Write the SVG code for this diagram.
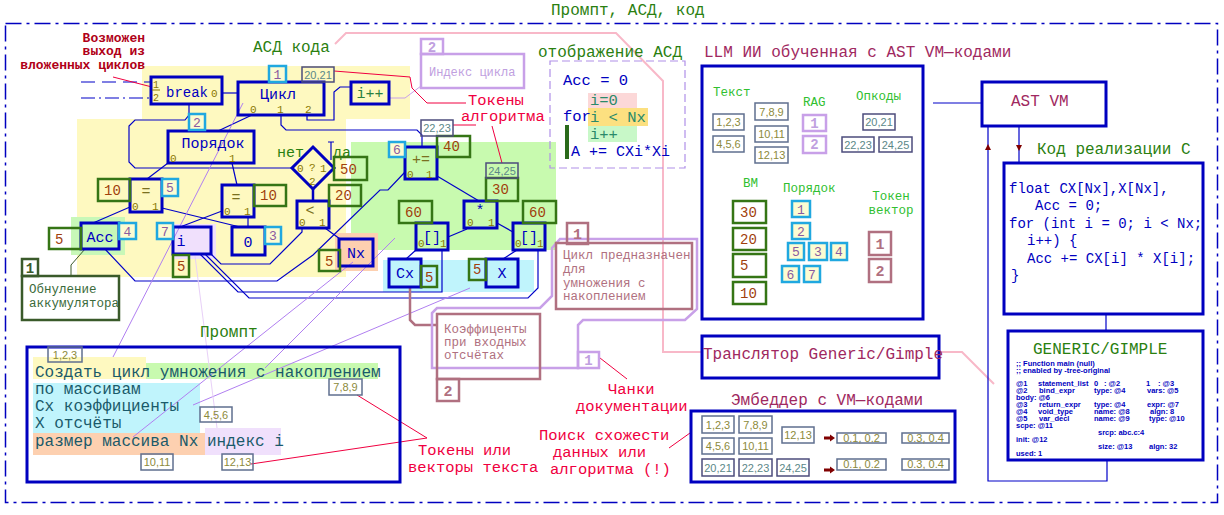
<svg xmlns="http://www.w3.org/2000/svg" width="1224" height="515" viewBox="0 0 1224 515">
<defs>
<style>
text{font-family:"Liberation Mono","DejaVu Sans Mono",monospace}
.bl{fill:none;stroke:#0000c0;stroke-width:3}
.w{fill:none;stroke:#0000c8;stroke-width:1.2}
.nt{fill:#0000c0;font-size:15px;text-anchor:middle}
.pt{fill:#8a7800;font-size:11px}
.ot{fill:#7a7020;font-size:15px;text-anchor:middle}
.v{fill:none;stroke:#357515;stroke-width:2.5}
.vt{fill:#a0400c;font-size:14px}
.c{fill:#fcfcd2;stroke:#20a8e0;stroke-width:2.5}
.ct{fill:#8a5aa0;font-size:13px;text-anchor:middle}
.tg{fill:none;stroke:#5f6f8f;stroke-width:1.5}
.tgt{fill:#8c8a3c;font-size:11px;font-family:"Liberation Sans",sans-serif;text-anchor:middle}
.op{fill:none;stroke:#4c4c7c;stroke-width:1.5}
.opt{fill:#5c8888;font-size:11px;font-family:"Liberation Sans",sans-serif;text-anchor:middle}
.pl{fill:none;stroke:#b07ff0;stroke-width:1}
.rl{fill:none;stroke:#f00040;stroke-width:1}
.gl{fill:#2a8010;font-size:16px}
.lg{fill:#30c030;font-size:12.5px}
.red{fill:#f00040;font-size:15.5px}
.mv{fill:none;stroke:#b07080;stroke-width:2.5}
.mvt{fill:#b07080;font-size:12.5px}
.mvb{fill:#b07080;font-size:15px;font-weight:bold;text-anchor:middle}
.pp{fill:none;stroke:#c8a0e8;stroke-width:2.5}
.ppb{fill:#c0a0e0;font-size:14px;font-weight:bold;text-anchor:middle}
.ttl{fill:#a02860;font-size:16px}
.pr{fill:#1a5a6a;font-size:16px}
.ads{fill:#2a8a6a;font-size:15.5px}
.code{fill:#0000c0;font-size:14px}
.gm{fill:#0000c0;font-size:7.5px;font-weight:bold;font-family:"Liberation Sans",sans-serif}
</style>
<path id="arR" d="M-4,-1.5 H2 V-3.5 L7,0 L2,3.5 V1.5 H-4 Z" fill="#800000"/>
</defs>
<rect width="1224" height="515" fill="#ffffff"/>

<g id="backgrounds">
<polygon points="142,66 410,66 410,119 346,119 346,277 77,277 77,119 142,119" fill="#fef9c0"/>
<rect x="351" y="142" width="205" height="108" fill="#c8faaf"/>
<rect x="71" y="217" width="54" height="38" fill="#c8f8b8"/>
<rect x="383" y="260" width="151" height="32" fill="#c0f4fc"/>
<rect x="335" y="233" width="43" height="38" fill="#fdd0b0"/>
<rect x="172" y="224" width="44" height="35" fill="#f0e0fc"/>
<rect x="588" y="93" width="49" height="15" fill="#fcd8d8"/>
<rect x="588" y="108" width="60" height="18" fill="#fce080"/>
<rect x="588" y="126" width="49" height="16" fill="#c8f8c8"/>
<rect x="33" y="357" width="113" height="22" fill="#fef9c0"/>
<rect x="146" y="363" width="232" height="16" fill="#c8faaf"/>
<rect x="33" y="383" width="167" height="50" fill="#c0f4fc"/>
<rect x="33" y="433" width="172" height="22" fill="#fdd0b0"/>
<rect x="205" y="428" width="76" height="27" fill="#f0e0fc"/>
</g>

<g id="frame">
<rect x="5.5" y="23.5" width="1212" height="479" fill="none" stroke="#0000c0" stroke-width="1.5" stroke-dasharray="16,5,3,5"/>
<text x="551" y="15" class="gl">Промпт, АСД, код</text>
</g>

<g id="connectors">
<path class="w" d="M81,82 H150" stroke-dasharray="14,7"/>
<path class="w" d="M81,98 H150" stroke-dasharray="14,4,2,4"/>
<path class="w" d="M222,93 H238"/>
<path class="w" d="M189,104 V115 L185,120 H135 L129,126 V162 L135,168 H292"/>
<path class="w" d="M252,115 L218,131"/>
<path class="w" d="M281,115 V125 L286,130 H417 L422,135 V147"/>
<path class="w" d="M307,115 V120 H334 V92 L340,87 H351"/>
<path class="w" d="M168,163 L147,179"/>
<path class="w" d="M232,163 L237,185"/>
<path class="w" d="M130,207 L93,223"/>
<path class="w" d="M162,208 L240,227"/>
<path class="w" d="M222,211 L180,227"/>
<path class="w" d="M248,217 V227"/>
<path fill="none" stroke="#0000c0" stroke-width="2.5" d="M313,189 V201"/>
<path class="w" d="M211,254 L221,264 H270 L302,232 V228"/>
<path class="w" d="M325,228 L340,239"/>
<path class="w" d="M105,249 L135,281 H277 L313,255 L380,190 H388 L405,172"/>
<path class="w" d="M200,254 L238,292 H442 V250"/>
<path class="w" d="M205,254 L249,298 H528 L538,288 V250"/>
<path class="w" d="M437,176 L479,201"/>
<path class="w" d="M467,229 L448,237"/>
<path class="w" d="M497,223 L513,232"/>
<path class="w" d="M416,250 L406,259"/>
<path class="w" d="M517,250 L503,259"/>
<path class="w" d="M328,142 H334 M331,142 V160"/>
<path fill="none" stroke="#3a5a2a" stroke-width="1" d="M71,276 V265 L85,249"/>
<path class="pl" d="M243,103 L113,357"/>
<path class="pl" d="M265,368 L395,238"/>
<path class="pl" d="M133,437 L353,262"/>
<path class="pl" d="M193,405 L470,288"/>
<path fill="none" stroke="#e8d0f8" stroke-width="1" d="M195,256 L217,428"/>
<path fill="none" stroke="#c8a0e8" stroke-width="1" d="M389,98 H405 L421,86"/>
<path class="rl" d="M113,77 L152,87"/>
<path class="rl" d="M334,71 L410,77 L412,88 L427,103 H466"/>
<path class="rl" d="M453,125 H476"/>
<path class="rl" d="M492,126 L502,163"/>
<path class="rl" d="M357,395 L427,438"/>
<path class="rl" d="M251,464 L427,438"/>
<path class="rl" d="M600,358 L627,379"/>
<path class="rl" d="M669,448 L690,433"/>
<path fill="none" stroke="#f8b8c8" stroke-width="2" d="M335,44 L346,33 H616 L663,81 V352 H702"/>
<path fill="none" stroke="#f8b8c8" stroke-width="2" d="M939,352 H962 L994,384"/>
<path class="mv" d="M410,287 V320 L415,325 H437"/>
<polygon class="pp" points="560,239 697,239 697,309 685,320 583,320 578,325 578,368 432,368 432,313 437,308 540,308 552,296 552,248"/>
<path class="w" d="M933,103 H982"/>
<path class="w" d="M988,126 V481 H1107 V460"/>
<path class="w" d="M1019,126 V163"/>
<path class="w" d="M1106,314 V331"/>
<polygon points="985,150 991,150 988,144" fill="#800000"/>
<polygon points="1016,145 1022,145 1019,151" fill="#800000"/>
</g>

<g id="n-break">
<rect class="bl" x="151" y="77" width="71" height="27"/>
<text x="166" y="97" fill="#0000c0" font-size="14">break</text>
<text x="211" y="97" class="pt" font-size="12">0</text>
<text x="153" y="88" fill="#8a7800" font-size="10">1</text>
<text x="153" y="101" fill="#8a7800" font-size="10">2</text>
<path d="M152,90 H160" stroke="#8a7800" stroke-width="1"/>
</g>
<g id="n-cycle">
<rect class="bl" x="238" y="82" width="86" height="33"/>
<text x="278" y="99" class="nt">Цикл</text>
<text x="250" y="113" class="pt">0</text>
<text x="277" y="113" class="pt">1</text>
<text x="305" y="113" class="pt">2</text>
<rect class="c" x="269" y="66" width="17" height="16"/>
<text x="277.5" y="79" class="ct">1</text>
<rect class="op" x="302" y="67" width="32" height="15"/>
<text x="318" y="79" class="opt">20,21</text>
</g>
<g id="n-inc">
<rect class="bl" x="351" y="82" width="38" height="22"/>
<text x="370" y="98" font-size="15" fill="#2a8040" text-anchor="middle">i++</text>
</g>
<g id="n-order">
<rect class="bl" x="168" y="131" width="86" height="32"/>
<text x="213" y="148" class="nt" font-size="15.5">Порядок</text>
<text x="170" y="161.5" class="pt">0</text>
<text x="229" y="161.5" class="pt">1</text>
<rect class="c" x="189" y="114" width="16" height="16"/>
<text x="197" y="127" class="ct">2</text>
</g>
<g id="n-cond">
<polygon points="313,147 334,168 313,189 292,168" fill="none" stroke="#0000c0" stroke-width="3"/>
<text x="297" y="172" class="pt">0</text>
<text x="309" y="171" class="pt">?</text>
<text x="320" y="172" class="pt">1</text>
<text x="309" y="185" class="pt">2</text>
<text x="277" y="157" fill="#2a8010" font-size="15">нет</text>
<text x="333" y="157" fill="#2a8010" font-size="15">да</text>
<rect class="v" x="334" y="157" width="33" height="23"/>
<text x="340" y="174" class="vt">50</text>
</g>
<g id="n-eq1">
<rect class="bl" x="130" y="179" width="32" height="33"/>
<text x="146" y="196" class="ot">=</text>
<text x="132" y="210" class="pt">0</text>
<text x="152" y="210" class="pt">1</text>
<rect class="v" x="98" y="179" width="32" height="22"/>
<text x="104" y="195" class="vt">10</text>
<rect class="c" x="162" y="179" width="16" height="17"/>
<text x="170" y="192" class="ct">5</text>
</g>
<g id="n-eq2">
<rect class="bl" x="222" y="185" width="32" height="32"/>
<text x="236" y="202" class="ot">=</text>
<text x="224" y="215" class="pt">0</text>
<text x="244" y="215" class="pt">1</text>
<rect class="v" x="254" y="185" width="32" height="21"/>
<text x="260" y="200" class="vt">10</text>
</g>
<g id="n-lt">
<rect class="bl" x="297" y="201" width="32" height="27"/>
<text x="310" y="215" class="ot">&lt;</text>
<text x="299" y="226" class="pt">0</text>
<text x="319" y="226" class="pt">1</text>
<rect class="v" x="329" y="185" width="32" height="21"/>
<text x="335" y="200" class="vt">20</text>
</g>
<g id="n-acc">
<rect class="bl" x="81" y="223" width="38" height="26"/>
<text x="100" y="242" class="nt">Acc</text>
<rect class="v" x="49" y="228" width="32" height="21"/>
<text x="55" y="244" class="vt">5</text>
<rect class="c" x="119" y="223" width="17" height="16"/>
<text x="127.5" y="236" class="ct">4</text>
</g>
<g id="n-i">
<rect class="bl" x="173" y="227" width="38" height="27"/>
<text x="181" y="246" class="nt">i</text>
<rect class="c" x="157" y="223" width="16" height="16"/>
<text x="165" y="236" class="ct">7</text>
<rect class="v" x="173" y="255" width="16" height="22"/>
<text x="177" y="271" class="vt">5</text>
</g>
<g id="n-zero">
<rect class="bl" x="232" y="227" width="33" height="28"/>
<text x="248" y="247" class="nt">0</text>
<rect class="c" x="265" y="227" width="16" height="17"/>
<text x="273" y="240" class="ct">3</text>
</g>
<g id="n-nx">
<rect class="bl" x="339" y="239" width="34" height="27"/>
<text x="356" y="258" class="nt">Nx</text>
<rect class="v" x="319" y="250" width="21" height="21"/>
<text x="325" y="266" class="vt">5</text>
</g>
<g id="note-reset">
<rect x="22" y="259" width="16" height="17" fill="none" stroke="#3a5a2a" stroke-width="2.5"/>
<text x="30" y="273" fill="#3a5a2a" font-size="14" font-weight="bold" text-anchor="middle">1</text>
<rect x="22" y="276" width="97" height="44" fill="none" stroke="#3a5a2a" stroke-width="2.5"/>
<text x="29" y="293" fill="#3a6a3a" font-size="12.5">Обнуление</text>
<text x="29" y="307" fill="#3a6a3a" font-size="12.5">аккумулятора</text>
</g>
<g id="n-addeq">
<rect class="bl" x="405" y="147" width="32" height="32"/>
<text x="421" y="164" class="ot">+=</text>
<text x="407" y="178" class="pt">0</text>
<text x="426" y="178" class="pt">1</text>
<rect class="c" x="389" y="142" width="16" height="15"/>
<text x="397" y="154" class="ct">6</text>
<rect class="v" x="437" y="136" width="33" height="21"/>
<text x="443" y="151" class="vt">40</text>
<rect class="op" x="421" y="120" width="32" height="16"/>
<text x="437" y="132" class="opt">22,23</text>
</g>
<g id="n-mul">
<rect class="bl" x="464" y="201" width="33" height="27"/>
<text x="480" y="215" class="nt">*</text>
<text x="467" y="226" class="pt">0</text>
<text x="488" y="226" class="pt">1</text>
<rect class="v" x="486" y="178" width="32" height="23"/>
<text x="492" y="194" class="vt">30</text>
<rect class="op" x="486" y="163" width="32" height="15"/>
<text x="502" y="175" class="opt">24,25</text>
</g>
<g id="n-idx1">
<rect class="bl" x="416" y="223" width="32" height="27"/>
<text x="432" y="242" class="nt">[]</text>
<text x="418" y="247" class="pt">0</text>
<text x="440" y="247" class="pt">1</text>
<rect class="v" x="399" y="201" width="33" height="22"/>
<text x="405" y="217" class="vt">60</text>
</g>
<g id="n-idx2">
<rect class="bl" x="513" y="223" width="32" height="27"/>
<text x="529" y="242" class="nt">[]</text>
<text x="515" y="247" class="pt">0</text>
<text x="537" y="247" class="pt">1</text>
<rect class="v" x="523" y="201" width="33" height="22"/>
<text x="529" y="217" class="vt">60</text>
</g>
<g id="n-cx">
<rect class="bl" x="389" y="259" width="32" height="28"/>
<text x="405" y="278" class="nt">Cx</text>
<rect class="v" x="421" y="266" width="16" height="21"/>
<text x="425" y="282" class="vt">5</text>
</g>
<g id="n-x">
<rect class="bl" x="486" y="259" width="32" height="28"/>
<text x="502" y="278" class="nt">X</text>
<rect class="v" x="469" y="259" width="17" height="21"/>
<text x="473" y="274" class="vt">5</text>
</g>

<g id="labels">
<text x="145" y="42" fill="#b00018" font-size="13" font-weight="bold" text-anchor="end">Возможен</text>
<text x="145" y="55" fill="#b00018" font-size="13" font-weight="bold" text-anchor="end">выход из</text>
<text x="145" y="69" fill="#b00018" font-size="13" font-weight="bold" text-anchor="end">вложенных циклов</text>
<text x="253" y="52" class="gl">АСД кода</text>
<text x="468" y="105" class="red">Токены</text>
<text x="461" y="121" class="red">алгоритма</text>
<text x="608" y="394" class="red">Чанки</text>
<text x="576" y="411" class="red">документации</text>
<text x="539" y="440" class="red">Поиск схожести</text>
<text x="553" y="457" class="red">данных или</text>
<text x="550" y="474" class="red">алгоритма (!)</text>
<text x="418" y="455" class="red">Токены или</text>
<text x="408" y="472" class="red">векторы текста</text>
</g>
<g id="note-index">
<rect class="pp" x="421" y="39" width="22" height="15"/>
<text x="432" y="52" class="ppb">2</text>
<rect class="pp" x="421" y="54" width="103" height="34"/>
<text x="429" y="76" fill="#c0a0e0" font-size="12">Индекс цикла</text>
</g>
<g id="ads-view">
<text x="538" y="57" class="gl">отображение АСД</text>
<rect x="550" y="61" width="135" height="107" fill="none" stroke="#b090e8" stroke-width="1.2" stroke-dasharray="8,4"/>
<text x="563" y="85" fill="#0000c0" font-size="15.5">Acc = 0</text>
<text x="590" y="105" class="ads">i=0</text>
<text x="563" y="121" fill="#0000c0" font-size="15.5">for</text>
<text x="590" y="122" class="ads">i &lt; Nx</text>
<text x="590" y="139" class="ads">i++</text>
<rect x="565" y="125" width="4" height="34" fill="#2a6a1a"/>
<text x="571" y="156" fill="#0000c0" font-size="15">A += CXi*Xi</text>
</g>
<g id="note-cycle">
<rect class="mv" x="567" y="223" width="21" height="21"/>
<text x="577.5" y="239" class="mvb">1</text>
<rect class="mv" x="556" y="243" width="136" height="66"/>
<text x="563" y="259" class="mvt">Цикл предназначен</text>
<text x="563" y="273" class="mvt">для</text>
<text x="563" y="287" class="mvt">умножения с</text>
<text x="563" y="300" class="mvt">накоплением</text>
</g>
<g id="note-coef">
<rect class="mv" x="437" y="314" width="103" height="65"/>
<text x="444" y="333" class="mvt">Коэффиценты</text>
<text x="444" y="346" class="mvt">при входных</text>
<text x="444" y="359" class="mvt">отсчётах</text>
<rect class="mv" x="437" y="379" width="22" height="22"/>
<text x="448" y="396" class="mvb">2</text>
</g>
<g id="chunk-1">
<rect class="pp" x="578" y="352" width="21" height="16" fill="#ffffff"/>
<text x="588.5" y="365" class="ppb">1</text>
</g>

<g id="prompt">
<text x="200" y="337" class="gl">Промпт</text>
<rect class="bl" x="27" y="347" width="373" height="135"/>
<text x="35" y="377" class="pr">Создать цикл умножения с накоплением</text>
<text x="35" y="394" class="pr">по массивам</text>
<text x="35" y="411" class="pr">Сх коэффициенты</text>
<text x="35" y="428" class="pr">X отсчёты</text>
<text x="35" y="446" class="pr">размер массива Nx</text>
<text x="207" y="446" class="pr">индекс i</text>
<rect class="tg" x="48" y="347" width="34" height="15"/>
<text x="65" y="359" class="tgt">1,2,3</text>
<rect class="tg" x="329" y="379" width="33" height="16"/>
<text x="345.5" y="391" class="tgt">7,8,9</text>
<rect class="tg" x="200" y="407" width="32" height="15"/>
<text x="216" y="419" class="tgt">4,5,6</text>
<rect class="tg" x="141" y="454" width="32" height="16"/>
<text x="157" y="466" class="tgt">10,11</text>
<rect class="tg" x="222" y="454" width="31" height="16"/>
<text x="237.5" y="466" class="tgt">12,13</text>
</g>

<g id="llm">
<text x="704" y="57" class="ttl">LLM ИИ обученная с AST VM—кодами</text>
<rect class="bl" x="702" y="66" width="221" height="253"/>
<text x="713" y="96" class="lg">Текст</text>
<rect class="tg" x="713" y="114" width="31" height="16"/>
<text x="728.5" y="126" class="tgt">1,2,3</text>
<rect class="tg" x="713" y="136" width="31" height="16"/>
<text x="728.5" y="148" class="tgt">4,5,6</text>
<rect class="tg" x="755" y="103" width="33" height="17"/>
<text x="771.5" y="116" class="tgt">7,8,9</text>
<rect class="tg" x="755" y="126" width="33" height="16"/>
<text x="771.5" y="138" class="tgt">10,11</text>
<rect class="tg" x="755" y="147" width="33" height="16"/>
<text x="771.5" y="159" class="tgt">12,13</text>
<text x="803" y="106" class="lg">RAG</text>
<rect class="pp" x="803" y="115" width="23" height="16"/>
<text x="814.5" y="128" class="ppb">1</text>
<rect class="pp" x="803" y="136" width="23" height="17"/>
<text x="814.5" y="149" class="ppb">2</text>
<text x="856" y="100" class="lg">Опкоды</text>
<rect class="op" x="863" y="114" width="32" height="16"/>
<text x="879" y="126" class="opt">20,21</text>
<rect class="op" x="842" y="137" width="32" height="15"/>
<text x="858" y="149" class="opt">22,23</text>
<rect class="op" x="879" y="137" width="33" height="15"/>
<text x="895.5" y="149" class="opt">24,25</text>
<text x="743" y="187" class="lg">ВМ</text>
<rect class="v" x="733" y="201" width="33" height="22"/>
<text x="740" y="217" class="vt">30</text>
<rect class="v" x="733" y="228" width="33" height="22"/>
<text x="740" y="244" class="vt">20</text>
<rect class="v" x="733" y="254" width="33" height="23"/>
<text x="740" y="270" class="vt">5</text>
<rect class="v" x="733" y="282" width="33" height="22"/>
<text x="740" y="298" class="vt">10</text>
<text x="783" y="192" class="lg">Порядок</text>
<rect class="c" x="792" y="201" width="18" height="16"/>
<text x="801" y="214" class="ct">1</text>
<rect class="c" x="792" y="223" width="18" height="16"/>
<text x="801" y="236" class="ct">2</text>
<rect class="c" x="788" y="243" width="16" height="17"/>
<text x="796" y="256" class="ct">5</text>
<rect class="c" x="809" y="243" width="18" height="17"/>
<text x="818" y="256" class="ct">3</text>
<rect class="c" x="831" y="243" width="16" height="17"/>
<text x="839" y="256" class="ct">4</text>
<rect class="c" x="782" y="266" width="17" height="16"/>
<text x="790.5" y="279" class="ct">6</text>
<rect class="c" x="804" y="266" width="16" height="16"/>
<text x="812" y="279" class="ct">7</text>
<text x="891" y="200" class="lg" text-anchor="middle">Токен</text>
<text x="891" y="214" class="lg" text-anchor="middle">вектор</text>
<rect class="mv" x="869" y="232" width="22" height="23"/>
<text x="880" y="249" class="mvb">1</text>
<rect class="mv" x="869" y="259" width="22" height="23"/>
<text x="880" y="276" class="mvb">2</text>
</g>

<g id="ast-vm">
<rect class="bl" x="982" y="82" width="124" height="44"/>
<text x="1011" y="106" class="ttl">AST VM</text>
</g>
<g id="c-code">
<text x="1037" y="154" class="gl" font-size="15.5">Код реализации С</text>
<rect class="bl" x="1004" y="163" width="199" height="151"/>
<text x="1009" y="193" class="code">float CX[Nx],X[Nx],</text>
<text x="1035" y="210" class="code">Acc = 0;</text>
<text x="1009" y="228" class="code">for (int i = 0; i &lt; Nx;</text>
<text x="1027" y="245" class="code">i++) {</text>
<text x="1027" y="263" class="code">Acc += CX[i] * X[i];</text>
<text x="1011" y="280" class="code">}</text>
</g>
<g id="translator">
<rect class="bl" x="702" y="336" width="237" height="42"/>
<text x="703" y="359" class="ttl" font-size="15">Транслятор Generic/Gimple</text>
</g>
<g id="generic">
<rect class="bl" x="1008" y="331" width="195" height="129"/>
<text x="1033" y="354" class="gl">GENERIC/GIMPLE</text>
<text x="1016" y="366" class="gm">;; Function main (null)</text>
<text x="1016" y="373" class="gm">;; enabled by -tree-original</text>
<text y="386" class="gm"><tspan x="1016">@1</tspan><tspan x="1038">statement_list</tspan><tspan x="1094">0</tspan><tspan x="1104">: @2</tspan><tspan x="1146">1</tspan><tspan x="1158">: @3</tspan></text>
<text y="393" class="gm"><tspan x="1016">@2</tspan><tspan x="1039">bind_expr</tspan><tspan x="1094">type: @4</tspan><tspan x="1147">vars: @5</tspan></text>
<text x="1016" y="400" class="gm">body: @6</text>
<text y="407" class="gm"><tspan x="1016">@3</tspan><tspan x="1039">return_expr</tspan><tspan x="1094">type: @4</tspan><tspan x="1147">expr: @7</tspan></text>
<text y="414" class="gm"><tspan x="1016">@4</tspan><tspan x="1038">void_type</tspan><tspan x="1094">name: @8</tspan><tspan x="1150">algn: 8</tspan></text>
<text y="421" class="gm"><tspan x="1016">@5</tspan><tspan x="1039">var_decl</tspan><tspan x="1094">name: @9</tspan><tspan x="1149">type: @10</tspan></text>
<text x="1016" y="428" class="gm">scpe: @11</text>
<text x="1098" y="435" class="gm">srcp: abc.c:4</text>
<text x="1016" y="442" class="gm">init: @12</text>
<text y="449" class="gm"><tspan x="1098">size: @13</tspan><tspan x="1149">algn: 32</tspan></text>
<text x="1016" y="456" class="gm">used: 1</text>
</g>
<g id="embedder">
<text x="731" y="405" class="ttl">Эмбеддер с VM—кодами</text>
<rect class="bl" x="691" y="411" width="264" height="71"/>
<rect class="tg" x="702" y="416" width="32" height="17"/>
<text x="718" y="429" class="tgt">1,2,3</text>
<rect class="tg" x="739" y="416" width="33" height="17"/>
<text x="755.5" y="429" class="tgt">7,8,9</text>
<rect class="tg" x="702" y="438" width="32" height="16"/>
<text x="718" y="450" class="tgt">4,5,6</text>
<rect class="tg" x="739" y="438" width="33" height="16"/>
<text x="755.5" y="450" class="tgt">10,11</text>
<rect class="tg" x="782" y="427" width="32" height="16"/>
<text x="798" y="439" class="tgt">12,13</text>
<rect class="op" x="702" y="459" width="32" height="17"/>
<text x="718" y="472" class="opt">20,21</text>
<rect class="op" x="739" y="459" width="33" height="17"/>
<text x="755.5" y="472" class="opt">22,23</text>
<rect class="op" x="777" y="459" width="32" height="17"/>
<text x="793" y="472" class="opt">24,25</text>
<use href="#arR" x="828" y="438"/>
<use href="#arR" x="828" y="470"/>
<rect class="tg" x="837" y="433" width="49" height="10"/>
<text x="861.5" y="442" class="tgt">0.1, 0.2</text>
<rect class="tg" x="902" y="433" width="47" height="10"/>
<text x="925.5" y="442" class="tgt">0.3, 0.4</text>
<rect class="tg" x="837" y="459" width="49" height="11"/>
<text x="861.5" y="468" class="tgt">0.1, 0.2</text>
<rect class="tg" x="902" y="459" width="47" height="11"/>
<text x="925.5" y="468" class="tgt">0.3, 0.4</text>
</g>
</svg>
